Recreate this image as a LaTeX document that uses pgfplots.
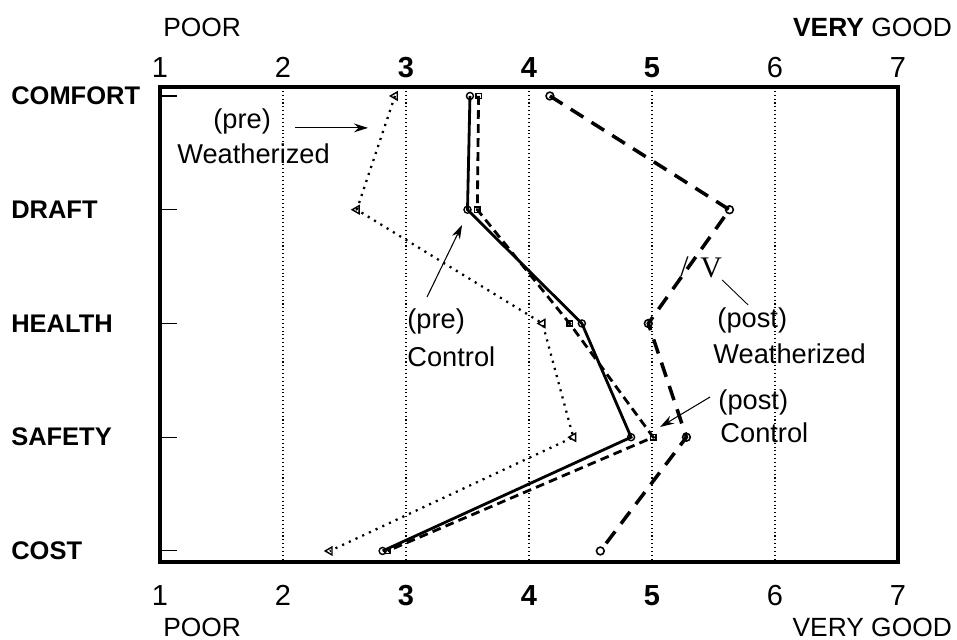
\documentclass[border=0pt]{standalone}
\usepackage{fontspec}
\setmainfont{Liberation Sans}
\newfontfamily\seriffont{Liberation Serif}
\usepackage{pgfplots}
\usepackage{pgfplotstable}
\pgfplotsset{compat=1.18}
\usetikzlibrary{arrows.meta}

% rating per category (0 = comfort ... 4 = cost)
\pgfplotstableread{
cat preW preC postC postW
0   2.91 3.52 3.59 4.17
1   2.60 3.50 3.58 5.63
2   4.11 4.43 4.33 4.97
3   4.36 4.83 5.01 5.28
4   2.38 2.81 2.85 4.58
}\ratings

\newcommand\ann{\fontsize{15.5}{18}\selectfont}
\newcommand\tck{\fontsize{16.5}{18}\selectfont}

\begin{document}
\begin{tikzpicture}
\path[use as bounding box] (-3.2cm,-1.56cm) rectangle (15.94cm,11.24cm);
\begin{axis}[
  at={(0,0)}, anchor=south west,
  scale only axis, width=14.76cm, height=9.5cm,
  xmin=1, xmax=7, ymin=-0.079, ymax=4.097, y dir=reverse,
  axis line style={line width=2pt},
  xtick={1,...,7}, xticklabels={1,2,\textbf{3},\textbf{4},\textbf{5},6,7},
  xmajorgrids, grid style={dash pattern=on 0.6pt off 1.6pt, line width=0.6pt, black},
  x tick style={draw=none},
  xticklabel style={font=\tck, yshift=-0.34cm},
  ytick={0,...,4}, yticklabels={COMFORT,DRAFT,HEALTH,SAFETY,COST},
  ytick pos=left, y tick style={line width=0.6pt, black},
  tick align=inside, major tick length=0.34cm,
  yticklabel style={font=\bfseries\fontsize{14.5}{16}\selectfont, text width=2.85cm, align=left},
  clip=false,
]
% (pre) weatherized
\addplot[black, line width=1.3pt, dash pattern=on 1.2pt off 3pt,
  mark=triangle, mark size=2.6pt, mark options={solid, line width=0.8pt, fill=white, rotate=90}]
  table[x=preW, y=cat] {\ratings};
% (pre) control
\addplot[black, line width=1.6pt, mark=o, mark size=2pt,
  mark options={solid, line width=0.8pt, fill=white}]
  table[x=preC, y=cat] {\ratings};
% (post) control
\addplot[black, line width=1.6pt, dash pattern=on 5pt off 3pt,
  mark=square, mark size=1.5pt, mark options={solid, line width=0.8pt, fill=white}]
  table[x=postC, y=cat] {\ratings};
% (post) weatherized
\addplot[black, line width=2pt, dash pattern=on 8.5pt off 5.5pt,
  mark=o, mark size=2.2pt, mark options={solid, line width=0.9pt, fill=white}]
  table[x=postW, y=cat] {\ratings};
\end{axis}

% top tick labels
\begin{axis}[
  at={(0,0)}, anchor=south west,
  scale only axis, width=14.76cm, height=9.5cm,
  xmin=1, xmax=7, ymin=0, ymax=1,
  axis line style={draw=none}, ytick=\empty,
  xtick={1,...,7}, xticklabels={1,2,\textbf{3},\textbf{4},\textbf{5},6,7},
  xticklabel pos=upper, x tick style={draw=none},
  xticklabel style={font=\tck, yshift=0.06cm},
]
\end{axis}

\begin{scope}[x=0.02cm, y=-0.02cm, shift={(-160,-562)}]
\node[anchor=base west, inner sep=0, font=\fontsize{15}{17}\selectfont] at (163,37) {POOR};
\node[anchor=base east, inner sep=0, font=\fontsize{15}{17}\selectfont] at (952,37) {\textbf{VERY} GOOD};
\node[anchor=base west, inner sep=0, font=\fontsize{15}{17}\selectfont] at (163,636) {POOR};
\node[anchor=base east, inner sep=0, font=\fontsize{15}{17}\selectfont] at (952,636) {VERY GOOD};

\node[anchor=base west, inner sep=0, font=\ann] at (213,129) {(pre)};
\node[anchor=base west, inner sep=0, font=\ann] at (177,164) {Weatherized};
\draw[line width=0.6pt, -{Stealth[length=8pt, width=5pt]}] (295,128) -- (368,128);

\node[anchor=base west, inner sep=0, font=\ann] at (407,329) {(pre)};
\node[anchor=base west, inner sep=0, font=\ann] at (407,367) {Control};
\draw[line width=0.6pt, -{Stealth[length=8pt, width=5pt]}] (427,297) -- (462,225);

\node[anchor=base west, inner sep=0, font=\seriffont\fontsize{17}{18}\selectfont] at (680,277) {/};
\node[anchor=base west, inner sep=0, font=\seriffont\fontsize{17}{18}\selectfont] at (700,278) {V};
\draw[line width=0.5pt] (722,280) -- (748,305);
\node[anchor=base west, inner sep=0, font=\ann] at (717,328) {(post)};
\node[anchor=base west, inner sep=0, font=\ann] at (713,364) {Weatherized};

\node[anchor=base west, inner sep=0, font=\ann] at (718,410) {(post)};
\node[anchor=base west, inner sep=0, font=\ann] at (720,443) {Control};
\draw[line width=0.6pt, -{Stealth[length=8pt, width=5pt]}] (710,397) -- (660,427);
\end{scope}
\end{tikzpicture}
\end{document}
